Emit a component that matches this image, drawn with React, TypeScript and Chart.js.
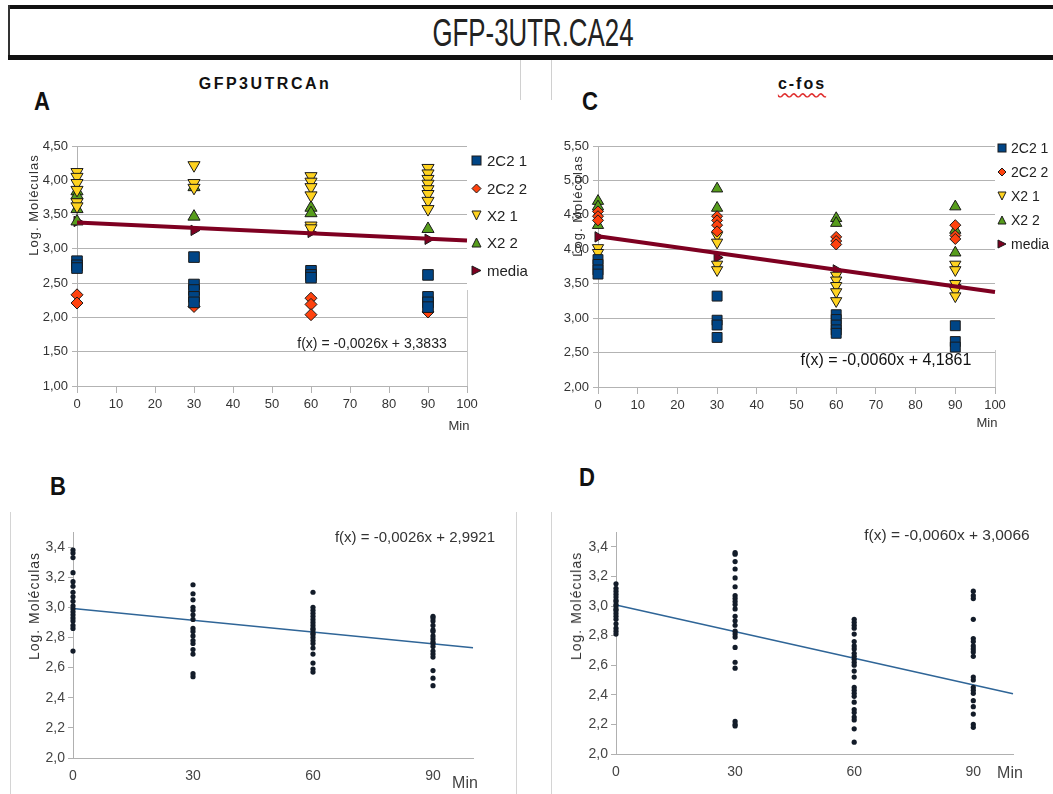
import React, { useEffect, useRef } from "react";
import { Chart, registerables } from "chart.js";

Chart.register(...registerables);

const NARROW = '"Liberation Sans Narrow", "Liberation Sans", Arial, sans-serif';
const SANS = '"Liberation Sans", Arial, sans-serif';

// ---------------- data ----------------
const timePoints = [0, 30, 60, 90];
const yTicksA = [1.0, 1.5, 2.0, 2.5, 3.0, 3.5, 4.0, 4.5];
const yTicksC = [2.0, 2.5, 3.0, 3.5, 4.0, 4.5, 5.0, 5.5];
const yTicksBD = [2.0, 2.2, 2.4, 2.6, 2.8, 3.0, 3.2, 3.4];

const seriesLabels = ["2C2 1", "2C2 2", "X2 1", "X2 2", "media"];
const seriesColors = ["#004586", "#ff420e", "#ffd320", "#579d1c", "#7e0021"];
const seriesShapes = ["rect", "rectRot", "triangle", "triangle", "triangle"];
const seriesRotations = [0, 0, 180, 0, 90];

// Panel A – GFP3UTRCAn (values at 0, 30, 60, 90 min)
const a2C21 = [[2.82, 2.76, 2.72], [2.88, 2.48, 2.40, 2.30, 2.22], [2.68, 2.62, 2.58], [2.62, 2.30, 2.22, 2.15]];
const a2C22 = [[2.33, 2.21], [2.16], [2.28, 2.19, 2.04], [2.08]];
const aX21 = [[4.12, 4.05, 3.96, 3.86, 3.68, 3.62], [4.22, 3.96, 3.89], [4.06, 3.98, 3.90, 3.78, 3.34, 3.30], [4.18, 4.10, 4.02, 3.95, 3.87, 3.80, 3.70, 3.58]];
const aX22 = [[3.84, 3.78, 3.58, 3.40], [3.90, 3.47], [3.60, 3.52], [3.29]];
const aMedia = [[3.40], [3.27], [3.24], [3.14]];
const aTrend = [3.3833, 3.1233]; // at 0 and 100 min

// Panel C – c-fos
const c2C21 = [[3.85, 3.78, 3.70, 3.64], [3.32, 2.97, 2.90, 2.72], [3.05, 2.98, 2.90, 2.83, 2.78], [2.89, 2.66, 2.58]];
const c2C22 = [[4.55, 4.48, 4.42], [4.48, 4.42, 4.35, 4.26], [4.18, 4.12, 4.07], [4.35, 4.20, 4.15]];
const cX21 = [[4.02, 3.95], [4.20, 4.10, 3.78, 3.70], [3.62, 3.55, 3.47, 3.38, 3.25], [3.78, 3.70, 3.50, 3.40, 3.32]];
const cX22 = [[4.70, 4.62, 4.35], [4.88, 4.60], [4.45, 4.38], [4.62, 4.28, 3.95]];
const cMedia = [[4.18], [3.88], [3.70], [3.48]];
const cTrend = [4.19, 3.38];

// Panel B – pooled GFP3UTRCAn
const bPoints = [
  [3.38, 3.36, 3.33, 3.23, 3.17, 3.14, 3.10, 3.07, 3.04, 3.01, 2.99, 2.97, 2.95, 2.93, 2.91, 2.88, 2.86, 2.71],
  [3.15, 3.09, 3.05, 3.00, 2.98, 2.95, 2.92, 2.86, 2.84, 2.81, 2.78, 2.76, 2.72, 2.69, 2.56, 2.54],
  [3.10, 3.00, 2.98, 2.96, 2.94, 2.92, 2.90, 2.88, 2.86, 2.85, 2.83, 2.82, 2.80, 2.78, 2.76, 2.73, 2.69, 2.63, 2.59, 2.57],
  [2.94, 2.93, 2.91, 2.88, 2.85, 2.84, 2.81, 2.79, 2.77, 2.76, 2.74, 2.71, 2.69, 2.67, 2.58, 2.53, 2.48],
];
const bTrend = [2.9921, 2.7321];

// Panel D – pooled c-fos
const dPoints = [
  [3.15, 3.12, 3.10, 3.08, 3.06, 3.04, 3.03, 3.01, 3.00, 2.98, 2.97, 2.95, 2.93, 2.91, 2.88, 2.85, 2.83, 2.81],
  [3.36, 3.35, 3.30, 3.25, 3.19, 3.13, 3.07, 3.05, 3.03, 3.01, 2.98, 2.93, 2.90, 2.87, 2.83, 2.81, 2.79, 2.72, 2.62, 2.58, 2.22, 2.20, 2.19],
  [2.91, 2.89, 2.87, 2.85, 2.81, 2.76, 2.73, 2.71, 2.68, 2.66, 2.64, 2.62, 2.60, 2.56, 2.52, 2.45, 2.43, 2.41, 2.39, 2.35, 2.30, 2.28, 2.25, 2.23, 2.17, 2.08],
  [3.10, 3.07, 3.05, 2.91, 2.78, 2.76, 2.73, 2.71, 2.69, 2.66, 2.52, 2.50, 2.45, 2.43, 2.41, 2.36, 2.32, 2.27, 2.20, 2.18],
];
const dTrend = [3.0066, 2.4066];

// ---------------- helpers ----------------
const toPoints = (groups: number[][]) =>
  groups.flatMap((vals, i) => vals.map((y) => ({ x: timePoints[i], y })));

const zeroPad = (s: any) => {
  s.paddingLeft = 0;
  s.paddingRight = 0;
  s.paddingTop = 0;
  s.paddingBottom = 0;
};
const fixW = (w: number) => (s: any) => {
  s.width = w;
  zeroPad(s);
};
const fixH = (h: number) => (s: any) => {
  s.height = h;
  zeroPad(s);
};
const setTicks = (vals: number[]) => (s: any) => {
  s.ticks = vals.map((value) => ({ value }));
};
const comma = (v: number, d: number) => v.toFixed(d).replace(".", ",");

function markerConfig(
  groups: number[][][][],
  trend: number[],
  yTicks: number[],
  yAxisW: number,
  xAxisH: number,
  padTop: number,
  padRight: number,
  radii: number[]
): any {
  const datasets: any[] = [
    {
      label: "trend",
      data: [
        { x: 0, y: trend[0] },
        { x: 100, y: trend[1] },
      ],
      showLine: true,
      borderColor: "#7e0021",
      borderWidth: 4,
      pointRadius: 0,
      clip: false,
    },
  ];
  groups.forEach((g, i) => {
    datasets.push({
      label: seriesLabels[i],
      data: toPoints(g),
      pointStyle: seriesShapes[i],
      pointRotation: seriesRotations[i],
      pointRadius: radii[i],
      backgroundColor: seriesColors[i],
      borderColor: "#1a1a1a",
      borderWidth: 1,
      showLine: false,
      clip: false,
    });
  });
  return {
    type: "scatter",
    data: { datasets },
    options: {
      responsive: false,
      animation: false,
      events: [],
      layout: { padding: { top: padTop, right: padRight, left: 0, bottom: 0 } },
      plugins: { legend: { display: false }, tooltip: { enabled: false } },
      scales: {
        x: {
          type: "linear",
          min: 0,
          max: 100,
          ticks: { stepSize: 10, color: "#333", font: { family: NARROW, size: 13 }, padding: 4 },
          grid: { drawOnChartArea: false, drawTicks: true, tickLength: 7, color: "#b3b3b3" },
          border: { color: "#b3b3b3" },
          afterFit: fixH(xAxisH),
        },
        y: {
          type: "linear",
          min: yTicks[0],
          max: yTicks[yTicks.length - 1],
          afterBuildTicks: setTicks(yTicks),
          ticks: {
            color: "#333",
            font: { family: NARROW, size: 13 },
            padding: 4,
            callback: (v: number) => comma(v, 2),
          },
          grid: { color: "#b3b3b3", tickLength: 5 },
          border: { color: "#b3b3b3" },
          afterFit: fixW(yAxisW),
        },
      },
    },
  };
}

function dotConfig(
  groups: number[][],
  trend: number[],
  yAxisW: number,
  xAxisH: number,
  padTop: number,
  padRight: number
): any {
  return {
    type: "scatter",
    data: {
      datasets: [
        {
          label: "Log. Moléculas",
          data: toPoints(groups),
          pointStyle: "circle",
          pointRadius: 2.6,
          backgroundColor: "#131c29",
          borderWidth: 0,
          clip: false,
        },
        {
          label: "trend",
          data: [
            { x: 0, y: trend[0] },
            { x: 100, y: trend[1] },
          ],
          showLine: true,
          borderColor: "#2f6597",
          borderWidth: 1.6,
          pointRadius: 0,
          clip: false,
        },
      ],
    },
    options: {
      responsive: false,
      animation: false,
      events: [],
      layout: { padding: { top: padTop, right: padRight, left: 0, bottom: 0 } },
      plugins: { legend: { display: false }, tooltip: { enabled: false } },
      scales: {
        x: {
          type: "linear",
          min: 0,
          max: 100,
          afterBuildTicks: setTicks(timePoints),
          ticks: { color: "#444", font: { family: SANS, size: 14 }, padding: 10 },
          grid: { display: false, drawTicks: false },
          border: { color: "#b0b0b0" },
          afterFit: fixH(xAxisH),
        },
        y: {
          type: "linear",
          min: 2.0,
          max: 3.5,
          afterBuildTicks: setTicks(yTicksBD),
          ticks: {
            color: "#444",
            font: { family: SANS, size: 14 },
            padding: 3,
            callback: (v: number) => comma(v, 1),
          },
          grid: { drawOnChartArea: false, drawTicks: true, tickLength: 5, color: "#b0b0b0" },
          border: { color: "#b0b0b0" },
          afterFit: fixW(yAxisW),
        },
      },
    },
  };
}

// ---------------- components ----------------
function ChartBox(props: { left: number; top: number; width: number; height: number; make: () => any }) {
  const ref = useRef<HTMLCanvasElement | null>(null);
  useEffect(() => {
    const chart = new Chart(ref.current as HTMLCanvasElement, props.make());
    return () => chart.destroy();
  }, []);
  return (
    <canvas
      ref={ref}
      width={props.width}
      height={props.height}
      style={{ position: "absolute", left: props.left, top: props.top, width: props.width, height: props.height }}
    />
  );
}

function Txt(props: {
  x: number;
  y: number;
  children: React.ReactNode;
  size: number;
  bold?: boolean;
  family?: string;
  color?: string;
  rotate?: number;
  sx?: number;
  spacing?: number;
  extra?: any;
}) {
  const t = `translate(-50%, -50%)${props.rotate ? ` rotate(${props.rotate}deg)` : ""}${
    props.sx ? ` scaleX(${props.sx})` : ""
  }`;
  return (
    <div
      style={{
        position: "absolute",
        left: props.x,
        top: props.y,
        transform: t,
        fontSize: props.size,
        fontWeight: props.bold ? 700 : 400,
        fontFamily: props.family || SANS,
        color: props.color || "#222",
        whiteSpace: "nowrap",
        lineHeight: 1,
        letterSpacing: props.spacing || 0,
        ...(props.extra || {}),
      }}
    >
      {props.children}
    </div>
  );
}

function Marker(props: { idx: number; size: number }) {
  const s = props.size;
  const c = seriesColors[props.idx];
  const h = s / 2;
  let shape: React.ReactNode;
  if (props.idx === 0) shape = <rect x={1} y={1} width={s - 2} height={s - 2} />;
  else if (props.idx === 1) shape = <polygon points={`${h},1 ${s - 1},${h} ${h},${s - 1} 1,${h}`} />;
  else if (props.idx === 2) shape = <polygon points={`1,1 ${s - 1},1 ${h},${s - 1}`} />;
  else if (props.idx === 3) shape = <polygon points={`${h},1 ${s - 1},${s - 1} 1,${s - 1}`} />;
  else shape = <polygon points={`1,1 ${s - 1},${h} 1,${s - 1}`} />;
  return (
    <svg width={s} height={s} style={{ display: "block" }}>
      <g fill={c} stroke="#1a1a1a" strokeWidth={1}>
        {shape}
      </g>
    </svg>
  );
}

function Legend(props: { mx: number; tx: number; ys: number[]; size: number; font: number }) {
  return (
    <>
      {seriesLabels.map((lab, i) => (
        <React.Fragment key={lab}>
          <div style={{ position: "absolute", left: props.mx - props.size / 2, top: props.ys[i] - props.size / 2 }}>
            <Marker idx={i} size={props.size} />
          </div>
          <div
            style={{
              position: "absolute",
              left: props.tx,
              top: props.ys[i],
              transform: "translateY(-50%)",
              fontFamily: NARROW,
              fontSize: props.font,
              color: "#222",
              lineHeight: 1,
              whiteSpace: "nowrap",
            }}
          >
            {lab}
          </div>
        </React.Fragment>
      ))}
    </>
  );
}

function Line(props: { x: number; y: number; w: number; h: number; c: string }) {
  return (
    <div style={{ position: "absolute", left: props.x, top: props.y, width: props.w, height: props.h, background: props.c }} />
  );
}

export default function App() {
  return (
    <div
      style={{
        position: "fixed",
        left: 0,
        top: 0,
        width: 1053,
        height: 794,
        background: "#fff",
        overflow: "hidden",
      }}
    >
      {/* header */}
      <Line x={8} y={5} w={1045} h={4} c="#111" />
      <Line x={8} y={5} w={2} h={54} c="#333" />
      <Line x={8} y={55} w={1045} h={5} c="#111" />
      <Txt x={533} y={33} size={38} sx={0.68} color="#222">
        GFP-3UTR.CA24
      </Txt>
      <Line x={520} y={60} w={1} h={40} c="#d0d0d0" />
      <Line x={551} y={60} w={1} h={40} c="#d0d0d0" />

      {/* panel titles and letters */}
      <Txt x={265} y={84} size={16} bold spacing={2.5} color="#111">
        GFP3UTRCAn
      </Txt>
      <Txt
        x={802}
        y={84}
        size={16}
        bold
        spacing={2}
        color="#111"
        extra={{ textDecoration: "underline wavy #e03030", textUnderlineOffset: 3 }}
      >
        c-fos
      </Txt>
      <Txt x={42} y={101} size={26} bold sx={0.85} color="#111">
        A
      </Txt>
      <Txt x={590} y={101} size={26} bold sx={0.85} color="#111">
        C
      </Txt>
      <Txt x={58} y={486} size={26} bold sx={0.85} color="#111">
        B
      </Txt>
      <Txt x={587} y={477} size={26} bold sx={0.85} color="#111">
        D
      </Txt>

      {/* frames */}
      <Line x={467} y={290} w={1} h={96} c="#c8c8c8" />
      <Line x={995} y={350} w={1} h={37} c="#c8c8c8" />
      <Line x={10} y={512} w={1} h={282} c="#d4d4d4" />
      <Line x={516} y={512} w={1} h={282} c="#d4d4d4" />
      <Line x={551} y={512} w={1} h={282} c="#d4d4d4" />

      {/* charts */}
      <ChartBox
        left={20}
        top={130}
        width={470}
        height={300}
        make={() => markerConfig([a2C21, a2C22, aX21, aX22, aMedia], aTrend, yTicksA, 57, 44, 16, 23, [7.5, 6, 7, 7, 6])}
      />
      <ChartBox
        left={560}
        top={130}
        width={470}
        height={300}
        make={() => markerConfig([c2C21, c2C22, cX21, cX22, cMedia], cTrend, yTicksC, 38, 43, 16, 35, [7, 5.5, 6.5, 6.5, 6])}
      />
      <ChartBox left={15} top={515} width={490} height={279} make={() => dotConfig(bPoints, bTrend, 58, 36, 17, 32)} />
      <ChartBox left={560} top={515} width={480} height={279} make={() => dotConfig(dPoints, dTrend, 56, 40, 17, 27)} />

      {/* legends */}
      <Legend mx={476} tx={487} ys={[160, 188, 215, 242, 270]} size={11} font={15} />
      <Legend mx={1002} tx={1011} ys={[148, 172, 196, 220, 244]} size={10} font={14} />

      {/* axis titles */}
      <Txt x={33} y={205} size={13} rotate={-90} spacing={1} color="#333">
        Log. Moléculas
      </Txt>
      <Txt x={577} y={206} size={13} rotate={-90} spacing={1} color="#333">
        Log. Moléculas
      </Txt>
      <Txt x={34} y={606} size={14} rotate={-90} spacing={1} color="#333">
        Log. Moléculas
      </Txt>
      <Txt x={576} y={606} size={14} rotate={-90} spacing={1} color="#333">
        Log. Moléculas
      </Txt>
      <Txt x={459} y={425} size={13} family={NARROW} color="#333">
        Min
      </Txt>
      <Txt x={987} y={422} size={13} family={NARROW} color="#333">
        Min
      </Txt>
      <Txt x={465} y={783} size={16} color="#444">
        Min
      </Txt>
      <Txt x={1010} y={773} size={16} color="#444">
        Min
      </Txt>

      {/* regression equations */}
      <Txt x={372} y={343} size={14} color="#222">
        f(x) = -0,0026x + 3,3833
      </Txt>
      <Txt x={886} y={360} size={16} color="#111">
        f(x) = -0,0060x + 4,1861
      </Txt>
      <Txt x={415} y={536} size={15} color="#333">
        f(x) = -0,0026x + 2,9921
      </Txt>
      <Txt x={947} y={535} size={15.5} color="#333">
        f(x) = -0,0060x + 3,0066
      </Txt>
    </div>
  );
}
